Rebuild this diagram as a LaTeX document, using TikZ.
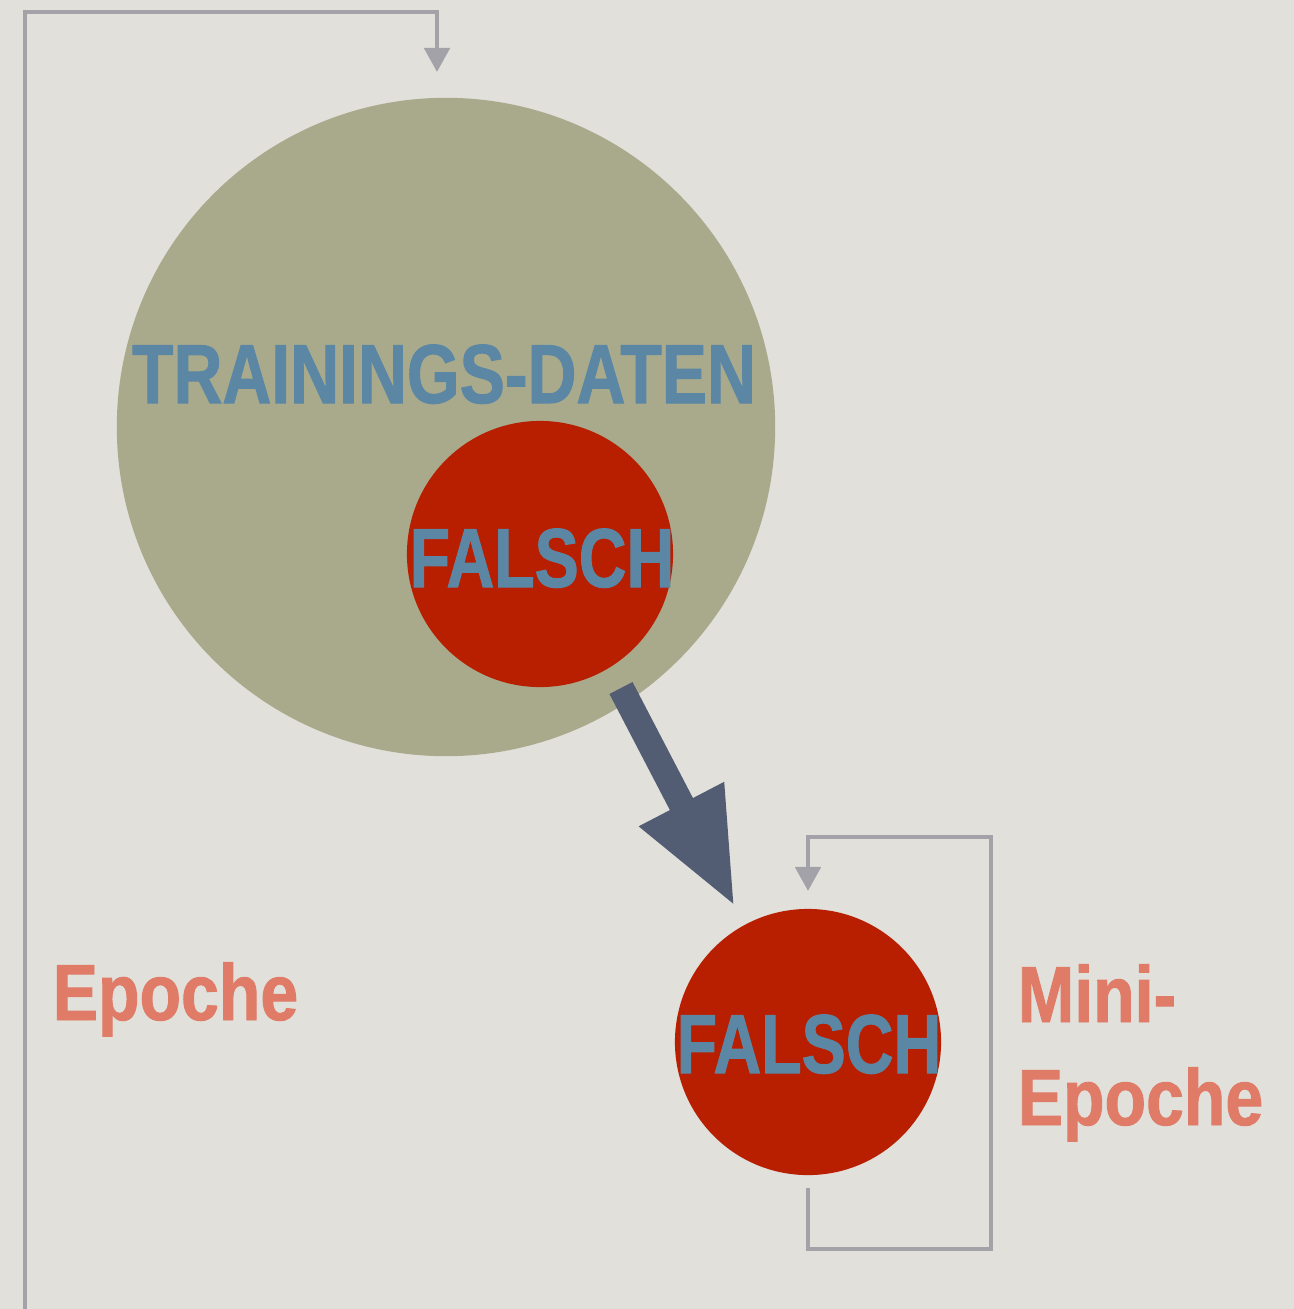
\documentclass[tikz,border=0pt]{standalone}
\usepackage{fontspec}
\setmainfont{Liberation Sans}
\newfontfamily\condfontw{Liberation Sans Bold}[FakeStretch=0.81,FakeBold=1.2]
\newfontfamily\condfont{Liberation Sans Bold}[FakeStretch=0.79,FakeBold=1.2]
\newfontfamily\condfontb{Liberation Sans Bold}[FakeStretch=0.855,FakeBold=1.2]
\usetikzlibrary{arrows.meta}
\definecolor{bg}{HTML}{E1E0DB}
\definecolor{olive}{HTML}{A9AA8C}
\definecolor{redc}{HTML}{B81E00}
\definecolor{bluet}{HTML}{5B87A5}
\definecolor{salmon}{HTML}{E07B68}
\definecolor{loopgray}{HTML}{A2A2A8}
\definecolor{arrowblue}{HTML}{525C73}
\tikzset{
  px/.style={x=0.01cm,y=-0.01cm},
  bigtext/.style={font=\condfont\fontsize{23.8}{26}\selectfont, text=bluet, inner sep=0pt, anchor=base},
  labeltext/.style={font=\condfontb\fontsize{22.6}{26}\selectfont, text=salmon, inner sep=0pt, anchor=base west},
  loopline/.style={draw=loopgray, line width=1.4pt, -{Triangle[length=0.24cm,width=0.25cm]}},
  bigarrow/.style={draw=arrowblue, line width=0.26cm, -{Triangle[length=1.16cm,width=0.88cm]}},
}
\begin{document}
\begin{tikzpicture}[px]
\fill[bg] (0,0) rectangle (1294,1309);
\useasboundingbox (0,0) rectangle (1294,1309);
% circles
\node[circle, fill=olive, minimum size=6.58cm, inner sep=0pt] (train) at (446,427) {};
\node[circle, fill=redc, minimum size=2.66cm, inner sep=0pt] (f1) at (540,554) {};
\node[circle, fill=redc, minimum size=2.66cm, inner sep=0pt] (f2) at (808,1042) {};
% texts
\node[bigtext, font=\condfontw\fontsize{23.8}{26}\selectfont] (ttrain) at (444,403) {TRAININGS-DATEN};
\node[bigtext] (tf1) at (542,587) {FALSCH};
\node[bigtext] (tf2) at (809,1073) {FALSCH};
\node[labeltext] (epoche) at (52,1020) {Epoche};
\node[labeltext] (mini) at (1017,1022) {Mini-};
\node[labeltext] (miniep) at (1017,1125) {Epoche};
% epoch loop
\coordinate (eb) at (25,1309);
\coordinate (et) at (437,72);
\draw[loopline] (eb) |- (437,12) -- (et);
% mini loop
\coordinate (ms) at (808,1188);
\coordinate (me) at (808,891);
\draw[loopline] (ms) -- (808,1249) -- (991,1249) -- (991,837) -- (808,837) -- (me);
% big arrow
\coordinate (as) at (621,688);
\coordinate (ae) at (735,907);
\draw[bigarrow] (as) -- (ae);
\end{tikzpicture}
\end{document}
